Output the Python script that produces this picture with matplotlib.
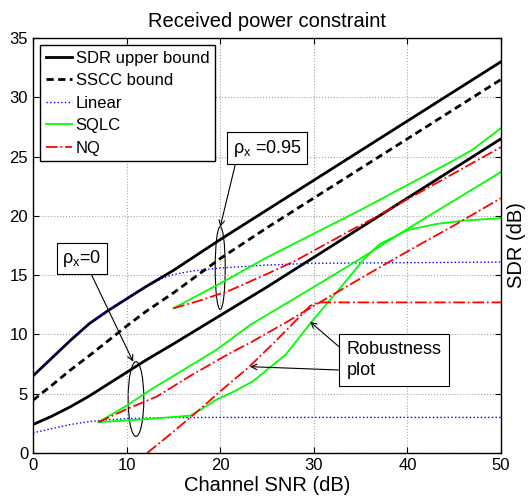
import matplotlib
matplotlib.use("Agg")
import matplotlib.pyplot as plt
from matplotlib.patches import Ellipse

plt.rcParams['font.family'] = ['Liberation Sans', 'DejaVu Sans']
plt.rcParams['mathtext.fontset'] = 'custom'
plt.rcParams['mathtext.rm'] = 'Liberation Sans'

# SDR bounds (dB) vs channel SNR (dB)
snr_b = [0, 2, 4, 6, 8, 10, 12, 15, 20, 25, 30, 35, 40, 45, 50]
sdr_ub_95 = [6.5, 8.0, 9.5, 10.9, 12.0, 13.0, 14.0, 15.4, 18.0, 20.5, 23.0, 25.5, 28.0, 30.5, 33.0]
sdr_ub_0 = [2.4, 3.1, 3.9, 4.8, 5.8, 6.8, 7.8, 9.2, 11.6, 14.0, 16.5, 19.0, 21.5, 24.0, 26.5]
sscc_95 = [4.45, 5.7, 7.0, 8.2, 9.45, 10.7, 11.9, 13.5, 16.4, 19.0, 21.5, 24.0, 26.5, 29.0, 31.5]

# linear scheme
snr_lin = [0, 2, 4, 6, 8, 10, 12, 13, 14, 15, 17, 20, 25, 30, 40, 50]
lin_95 = [6.5, 8.0, 9.5, 10.9, 12.0, 13.0, 13.95, 14.4, 14.8, 15.05, 15.35, 15.6, 15.85, 16.0, 16.05, 16.1]
lin_0 = [1.7, 2.05, 2.4, 2.65, 2.8, 2.9, 2.95, 2.97, 2.98, 2.98, 2.99, 3.0, 3.0, 3.0, 3.0, 3.0]

# SQLC
snr_sqlc_95 = [15, 20, 25, 30, 35, 40, 45, 47, 50]
sqlc_95 = [12.2, 14.3, 16.5, 18.5, 20.5, 22.6, 24.7, 25.6, 27.4]
snr_sqlc_0 = [7, 8.5, 10, 12.8, 15, 19.6, 23.2, 30, 35, 40, 45, 50]
sqlc_0 = [2.6, 3.3, 4.0, 5.45, 6.5, 8.7, 10.8, 14.0, 16.4, 18.9, 21.3, 23.7]
snr_sqlc_rob = [7, 12, 16.8, 18, 19.6, 21.5, 23.5, 27, 29.8, 32.8, 35.3, 37, 40, 43, 46, 50]
sqlc_rob = [2.6, 2.85, 3.15, 3.7, 4.5, 5.2, 6.05, 8.3, 11.1, 13.9, 16.3, 17.6, 18.8, 19.3, 19.6, 19.8]

# NQ
snr_nq_95 = [15, 18, 21, 25, 28, 31, 34, 36.4, 40, 45, 50]
nq_95 = [12.2, 12.9, 13.7, 15.1, 16.2, 17.5, 18.8, 19.8, 21.4, 23.6, 25.8]
snr_nq_0 = [7, 10, 13.2, 17, 21, 23.2, 27, 31.7, 35.6, 40, 45, 50]
nq_0 = [2.6, 3.7, 4.75, 6.6, 8.4, 9.3, 11.0, 13.2, 15.0, 17.0, 19.2, 21.5]
snr_nq_rob = [12.2, 15, 18, 20, 23, 26, 28, 29.6, 30.5, 35, 40, 50]
nq_rob = [0.0, 1.8, 3.8, 5.2, 7.2, 9.5, 11.1, 12.4, 12.7, 12.7, 12.7, 12.7]

fig = plt.figure(figsize=(5.28, 5.0), dpi=100)
ax = fig.add_axes([33/528, 47/500, 468/528, 415/500])

green = '#00ff00'
ax.plot(snr_b, sdr_ub_95, 'k-', lw=2, label='SDR upper bound')
ax.plot(snr_b, sdr_ub_0, 'k-', lw=2)
ax.plot(snr_b, sscc_95, 'k--', lw=2, dashes=(2.6, 1.6), label='SSCC bound')
ax.plot(snr_lin, lin_95, ':', color='b', lw=1, label='Linear')
ax.plot(snr_lin, lin_0, ':', color='b', lw=1)
ax.plot(snr_sqlc_95, sqlc_95, '-', color=green, lw=1.3, label='SQLC')
ax.plot(snr_sqlc_0, sqlc_0, '-', color=green, lw=1.3)
ax.plot(snr_sqlc_rob, sqlc_rob, '-', color=green, lw=1.3)
ax.plot(snr_nq_95, nq_95, '-.', color='r', lw=1.3, label='NQ')
ax.plot(snr_nq_0, nq_0, '-.', color='r', lw=1.3)
ax.plot(snr_nq_rob, nq_rob, '-.', color='r', lw=1.3)

ax.set_xlim(0, 50)
ax.set_ylim(0, 35)
ax.set_xticks([0, 10, 20, 30, 40, 50])
ax.set_yticks([0, 5, 10, 15, 20, 25, 30, 35])
ax.grid(True, linestyle=':', color='0.65', lw=0.8)
ax.tick_params(direction='in', top=True, right=True, labelsize=12, length=4)
for s in ax.spines.values():
    s.set_linewidth(1)

ax.set_title('Received power constraint', fontsize=14.5, pad=8)
ax.set_xlabel('Channel SNR (dB)', fontsize=14.5, labelpad=2)
ax.yaxis.set_label_position('right')
ax.set_ylabel('SDR (dB)', fontsize=14.5, labelpad=4)

leg = ax.legend(loc='upper left', fontsize=12, handlelength=1.6, handletextpad=0.2,
                labelspacing=0.45, borderpad=0.35, borderaxespad=0.4, fancybox=False,
                framealpha=1, edgecolor='k')
leg.get_frame().set_linewidth(1)

# ellipses and annotations
ax.add_patch(Ellipse((20.0, 15.6), 1.07, 7.0, fill=False, ec='k', lw=0.8))
ax.add_patch(Ellipse((11.0, 4.55), 1.68, 6.3, fill=False, ec='k', lw=0.8))

box = dict(boxstyle='square,pad=0.3', fc='w', ec='k', lw=0.8)
ax.text(25.0, 25.7, r'ρ$_\mathrm{x}$ =0.95', fontsize=13, ha='center', va='center', bbox=box)
ax.text(5.2, 16.4, r'ρ$_\mathrm{x}$=0', fontsize=13, ha='center', va='center', bbox=box)
ax.text(33.5, 7.84, 'Robustness\nplot', fontsize=13, ha='left', va='center',
        bbox=dict(boxstyle='square,pad=0.4', fc='w', ec='k', lw=0.8), linespacing=1.3)

arr = dict(arrowstyle='->', color='k', lw=0.8, shrinkA=0, shrinkB=0)
ax.annotate('', xy=(20.0, 19.06), xytext=(21.6, 24.3), arrowprops=arr)
ax.annotate('', xy=(10.7, 7.7), xytext=(6.27, 15.0), arrowprops=arr)
ax.annotate('', xy=(29.6, 11.07), xytext=(32.7, 8.96), arrowprops=arr)
ax.annotate('', xy=(23.2, 7.28), xytext=(32.7, 7.0), arrowprops=arr)

fig.savefig('out.png', dpi=100)
